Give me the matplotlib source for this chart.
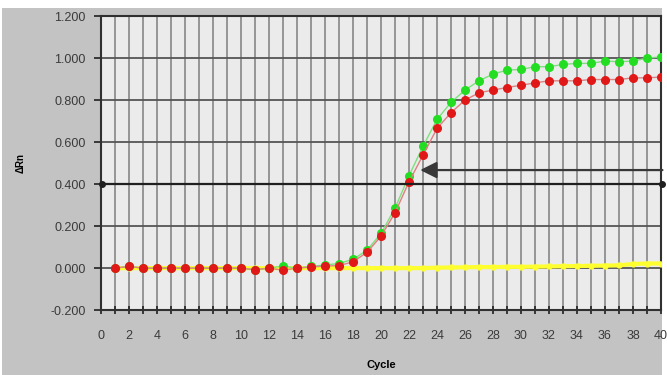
import matplotlib.pyplot as plt
import numpy as np

plt.rcParams['font.family'] = ['Liberation Sans', 'DejaVu Sans']

cycles = list(range(1, 41))
red = [0.0, 0.008, 0.0, 0.0, 0.0, 0.0, 0.0, 0.0, 0.0, 0.0,
       -0.008, 0.0, -0.01, 0.0, 0.005, 0.01, 0.012, 0.03, 0.075, 0.152,
       0.263, 0.411, 0.538, 0.665, 0.74, 0.80, 0.835, 0.848, 0.86, 0.871,
       0.882, 0.892, 0.892, 0.892, 0.898, 0.898, 0.898, 0.906, 0.906, 0.91]
green = [0.0, 0.008, 0.0, 0.0, 0.0, 0.0, 0.0, 0.0, 0.0, 0.0,
         -0.008, 0.0, 0.01, 0.0, 0.008, 0.015, 0.022, 0.042, 0.085, 0.165,
         0.285, 0.44, 0.58, 0.708, 0.789, 0.848, 0.892, 0.924, 0.943, 0.946,
         0.959, 0.959, 0.97, 0.975, 0.975, 0.986, 0.983, 0.986, 1.0, 1.006]
yellow = [0.0, 0.0, 0.0, 0.0, 0.0, 0.0, 0.0, 0.0, 0.0, 0.0,
          0.0, 0.0, 0.0, 0.0, 0.0, 0.0, 0.0, 0.0, 0.0, 0.0,
          0.0, 0.0, 0.0, 0.002, 0.003, 0.004, 0.005, 0.005, 0.006, 0.006,
          0.007, 0.008, 0.009, 0.01, 0.011, 0.012, 0.013, 0.02, 0.022, 0.022]
threshold = 0.4
y_ticks = [-0.2, 0.0, 0.2, 0.4, 0.6, 0.8, 1.0, 1.2]
x_labels = list(range(0, 41, 2))

fig = plt.figure(figsize=(6.67, 3.75), dpi=100, facecolor='white')
fig.patches.append(plt.Rectangle((0.003, 0.0), 0.99, 0.978, transform=fig.transFigure,
                                 facecolor='#c3c3c3', edgecolor='none', zorder=-10))
ax = fig.add_axes([0.1514, 0.173, 0.8396, 0.784])
ax.set_facecolor('#ebebeb')

# grid: light verticals each cycle, darker horizontals
for c in cycles:
    ax.axvline(c, color='#8e8e8e', lw=1.3, zorder=1)
for v in y_ticks:
    ax.axhline(v, color='#555555', lw=1.3, zorder=1)

ax.plot(cycles, yellow, color='#ffff30', lw=3, marker='o', ms=3.5, zorder=3)
ax.plot(cycles, green, color='#7ee07e', lw=1, marker='o', ms=5.5,
        mfc='#22dd22', mec='#22dd22', zorder=4)
ax.plot(cycles, red, color='#e08080', lw=1, marker='o', ms=5.5,
        mfc='#e01818', mec='#e01818', zorder=5)

# threshold line and arrow
ax.plot([0.1, 40.1], [threshold, threshold], color='#202020', lw=1.6,
        marker='o', ms=4, clip_on=False, zorder=6)
ax.annotate('', xy=(22.6, 0.467), xytext=(40.3, 0.467),
            arrowprops=dict(arrowstyle='-|>,head_length=1.0,head_width=0.5',
                            color='#383838', lw=1.6),
            annotation_clip=False, zorder=7)

ax.set_xlim(0, 40)
ax.set_ylim(-0.2, 1.2)
ax.set_yticks(y_ticks)
ax.set_yticklabels([f'{v:.3f}' for v in y_ticks], fontsize=9, color='#3a3a3a')
ax.set_xticks(cycles, minor=True)
ax.set_xticks(x_labels)
ax.set_xticklabels([str(v) for v in x_labels], fontsize=9, color='#3a3a3a')
ax.tick_params(axis='x', which='both', direction='inout', length=6, width=1.2, color='#202020', pad=11)
ax.tick_params(axis='y', direction='out', length=5, width=1.2, color='#202020', pad=6)
for s in ax.spines.values():
    s.set_color('#303030')
    s.set_linewidth(1.5)

ax.set_xlabel('Cycle', fontsize=8, fontweight='bold', labelpad=13)
ax.set_ylabel('ΔRn', fontsize=7, fontweight='bold', labelpad=18)

fig.savefig('out.png', dpi=100, facecolor=fig.get_facecolor())
